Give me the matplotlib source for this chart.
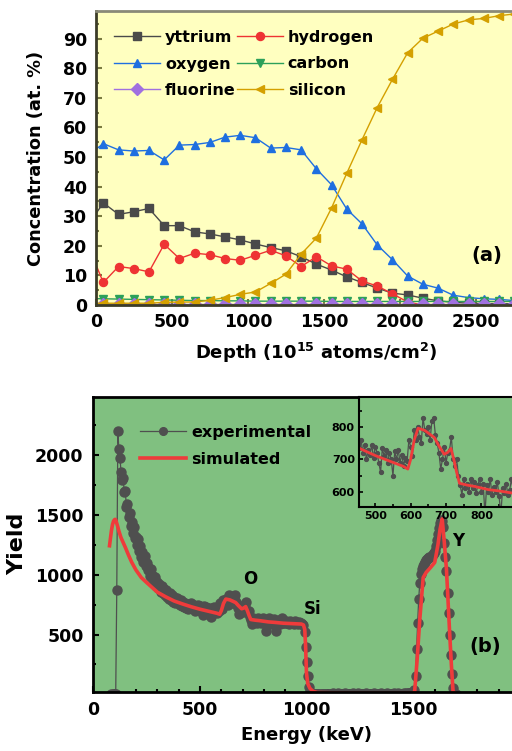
import numpy as np
import matplotlib
matplotlib.use("Agg")
import matplotlib.pyplot as plt
from matplotlib.ticker import MultipleLocator

plt.rcParams['font.family'] = ['DejaVu Sans']
plt.rcParams['font.weight'] = 'bold'
plt.rcParams['mathtext.fontset'] = 'custom'
plt.rcParams['mathtext.rm'] = 'DejaVu Sans:bold'
plt.rcParams['mathtext.bf'] = 'DejaVu Sans:bold'

# ---- (a) depth profile ----
depth = [-50, 50, 150, 250, 350, 450, 550, 650, 750, 850, 950, 1050, 1150, 1250, 1350,
         1450, 1550, 1650, 1750, 1850, 1950, 2050, 2150, 2250, 2350, 2450, 2550, 2650, 2750, 2850]
yttrium = [27, 34.5, 30.6, 31.5, 32.6, 26.8, 26.8, 24.7, 24.0, 23.0, 22.0, 20.6, 19.4, 18.3, 16.3,
           13.8, 11.8, 9.5, 7.6, 5.7, 4.0, 3.4, 2.3, 1.4, 0.9, 0.6, 0.5, 0.5, 0.4, 0.4]
hydrogen = [20, 7.6, 13.0, 12.3, 11.2, 20.5, 15.7, 17.5, 17.0, 15.7, 15.1, 16.8, 18.5, 16.6, 13.0,
            16.3, 13.2, 12.1, 8.1, 6.4, 3.8, 1.0, 0, 0, 0, 0, 0, 0, 0, 0]
oxygen = [50.6, 54.5, 52.4, 52.0, 52.2, 49.0, 54.0, 54.2, 54.9, 56.7, 57.3, 56.5, 53.0, 53.2, 52.4,
          46.0, 40.6, 32.4, 27.4, 20.3, 15.3, 9.8, 7.0, 5.7, 3.3, 2.5, 2.1, 1.9, 1.5, 1.2]
carbon = [2.2, 2.1, 2.0, 1.9, 1.8, 1.7, 1.6, 1.5, 1.5, 1.4, 1.4, 1.3, 1.3, 1.3, 1.3,
          1.3, 1.2, 1.2, 1.2, 1.2, 1.2, 1.2, 1.2, 1.2, 1.2, 1.2, 1.2, 1.2, 1.2, 1.2]
fluorine = [0.4, 0.4, 0.4, 0.4, 0.4, 0.4, 0.4, 0.4, 0.4, 0.4, 0.4, 0.4, 0.4, 0.4, 0.4,
            0.4, 0.4, 0.4, 0.4, 0.4, 0.4, 0.4, 0.4, 0.4, 0.4, 0.4, 0.4, 0.4, 0.4, 0.4]
silicon = [0.5, 0.6, 0.6, 0.6, 0.6, 0.9, 1.0, 1.0, 1.6, 2.5, 3.6, 4.4, 7.3, 10.4, 17.2,
           22.6, 32.8, 44.5, 55.8, 66.7, 76.2, 85.2, 90.1, 92.5, 94.9, 96.3, 96.8, 97.7, 98.3, 98.6]

# ---- (b) RBS spectrum, 5 keV channels from 85 keV ----
exp_low = [0, 0, 0, 0, 0, 870, 2200, 2050, 1980, 1860,
           1790, 1810, 1690, 1700, 1570, 1590, 1480, 1520, 1410, 1440,
           1350, 1400, 1310, 1320, 1250, 1300, 1200, 1240, 1150, 1190,
           1110, 1160, 1070, 1100, 1040, 1060, 990, 1050, 970, 990,
           940, 980, 910, 940, 890, 925, 860, 905, 850, 880,
           830, 870, 815, 850, 800, 845, 790, 830, 775, 815,
           765, 805, 760, 790, 745, 785, 740, 770, 730, 765,
           720, 755, 715, 745]
exp_oxygen = [735, 760, 720, 745, 700, 730, 715, 745, 705, 740,
              720, 690, 660, 735, 710, 730, 690, 720, 700, 650,
              725, 700, 730, 690, 715, 680, 705, 695, 760, 740,
              710, 790, 760, 800, 770, 750, 830, 790, 780, 800,
              760, 820, 830, 775, 750, 720, 670, 700, 740, 690,
              720, 730, 770, 700, 680, 700, 650, 620, 590, 640,
              610, 625, 600, 640, 610, 630, 595, 620, 640, 600,
              625, 530, 620, 600, 640, 590, 615, 600, 630, 585,
              530, 610, 595, 625, 590, 605, 640, 600]
exp_silicon = [615, 595, 610, 600, 590, 615, 600, 595, 605, 590,
               610, 595, 600, 590, 605, 595, 600, 590, 580, 520,
               400, 270, 150, 60, 20, 8, 5, 3, 6, 2,
               4, 1, 5, 3, 0, 6, 2, 4, 1, 3,
               5, 2]
exp_gap = [3, 6, 2, 4, 8, 1, 5, 3, 7, 2,
           4, 6, 1, 3, 5, 9, 2, 4, 6, 3,
           1, 5, 7, 2, 4, 3, 6, 8, 2, 5,
           3, 1, 4, 6, 2, 7, 3, 5, 4, 2,
           6, 3, 8, 1, 4, 5, 2, 6, 3, 7,
           4, 2, 5, 3, 9, 1, 6, 4, 2, 5,
           3, 7, 4, 6, 2, 8, 5, 3, 6, 4,
           7, 5, 9, 6, 8, 10, 12]
exp_yttrium = [10, 15, 20, 40, 150, 380, 600, 800, 930, 1010,
               1050, 1070, 1090, 1110, 1120, 1130, 1140, 1150, 1150, 1160,
               1170, 1180, 1200, 1240, 1290, 1340, 1390, 1430, 1460, 1450,
               1400, 1270, 1150, 1030, 850, 680, 500, 330, 170, 50,
               10, 0, 0]
exp_energy = np.arange(85, 1705, 5)
exp_yield = np.concatenate([exp_low, exp_oxygen, exp_silicon, exp_gap, exp_yttrium])

sim_energy = [76, 80, 85, 90, 95, 100, 103, 106, 110, 115,
              120, 130, 140, 150, 165, 180, 200, 225, 250, 275,
              300, 340, 380, 420, 460, 500, 540, 580, 592, 600,
              610, 621, 640, 667, 680, 695, 705, 714, 722, 730,
              738, 760, 781, 820, 850, 890, 950, 975, 985, 991,
              995, 999, 1005, 1015, 1030, 1050, 1200, 1400, 1495, 1506,
              1518, 1530, 1546, 1560, 1580, 1600, 1615, 1625, 1635, 1645,
              1655, 1662, 1670, 1678, 1686, 1700, 1800]
sim_yield = [1243, 1300, 1370, 1420, 1450, 1462, 1464, 1455, 1430, 1400,
             1365, 1310, 1270, 1230, 1165, 1105, 1040, 977, 935, 895,
             855, 815, 780, 755, 732, 712, 695, 678, 670, 700,
             760, 797, 790, 768, 742, 716, 722, 734, 700, 660,
             626, 620, 616, 606, 602, 595, 590, 588, 580, 542,
             400, 178, 90, 50, 25, 15, 10, 8, 10, 23,
             300, 626, 977, 1020, 1060, 1103, 1250, 1380, 1468, 1270,
             1047, 800, 514, 250, 23, 5, 5]

W, H = 512, 751
fig = plt.figure(figsize=(W / 100, H / 100), dpi=100)


def box(left, top, right, bottom):
    return [left / W, 1 - bottom / H, (right - left) / W, (bottom - top) / H]


# ---------------- panel (a) ----------------
ax1 = fig.add_axes(box(95.7, 11, 537, 305))
ax1.set_facecolor('#ffffc0')
series = [
    (yttrium, 'yttrium', '#4a4a4a', 's'),
    (hydrogen, 'hydrogen', '#ee3333', 'o'),
    (oxygen, 'oxygen', '#1f6fe0', '^'),
    (carbon, 'carbon', '#2ca05a', 'v'),
    (fluorine, 'fluorine', '#a070e0', 'D'),
    (silicon, 'silicon', '#d4a000', '<'),
]
lines = {}
for vals, name, col, mk in series:
    ms = 6.5 if mk == 'D' else 5.8
    ln, = ax1.plot(depth, vals, color=col, marker=mk, ms=ms, lw=1, label=name)
    lines[name] = ln
ax1.set_xlim(0, 2900)
ax1.set_ylim(0, 99.3)
ax1.xaxis.set_major_locator(MultipleLocator(500))
ax1.xaxis.set_minor_locator(MultipleLocator(250))
ax1.yaxis.set_major_locator(MultipleLocator(10))
ax1.yaxis.set_minor_locator(MultipleLocator(5))
ax1.tick_params(which='both', direction='in', color='#7a7a40', width=1.5,
                labelsize=12.5, pad=6)
ax1.tick_params(which='major', length=4)
ax1.tick_params(which='minor', length=2.5)
for s in ['left', 'bottom']:
    ax1.spines[s].set_color('#3c3c28')
    ax1.spines[s].set_linewidth(2)
ax1.spines['top'].set_color('#8a8a78')
ax1.spines['top'].set_linewidth(2)
ax1.set_xlabel(r'Depth (10$^{15}$ atoms/cm$^{2}$)', fontsize=13, fontweight='bold', labelpad=7)
ax1.set_ylabel('Concentration (at. %)', fontsize=12.8, fontweight='bold', labelpad=13)
order = ['yttrium', 'oxygen', 'fluorine', 'hydrogen', 'carbon', 'silicon']
ax1.legend([lines[n] for n in order], order, ncol=2, loc='upper left',
           bbox_to_anchor=(114 / W, 1 - 30 / H), bbox_transform=fig.transFigure,
           frameon=False, fontsize=11.5, handlelength=2.9, handletextpad=0.3,
           columnspacing=0.05, labelspacing=0.72, borderpad=0, borderaxespad=0)
ax1.text(2569, 16.6, '(a)', fontsize=14, fontweight='bold', ha='center', va='center')

# ---------------- panel (b) ----------------
ax2 = fig.add_axes(box(93.3, 396.7, 519, 691.7))
ax2.set_facecolor('#80c080')
ax2.plot(exp_energy, exp_yield, color='#4f4f4f', lw=0.9, marker='o', ms=6.5,
         label='experimental')
ax2.plot(sim_energy, sim_yield, color='#ef3b3b', lw=2.6, label='simulated')
ax2.set_xlim(0, 1995)
ax2.set_ylim(22, 2490)
ax2.xaxis.set_major_locator(MultipleLocator(500))
ax2.xaxis.set_minor_locator(MultipleLocator(100))
ax2.yaxis.set_major_locator(MultipleLocator(500))
ax2.yaxis.set_minor_locator(MultipleLocator(250))
ax2.tick_params(which='both', direction='in', width=1.5, labelsize=12.5, pad=7)
ax2.tick_params(which='major', length=4)
ax2.tick_params(which='minor', length=2.5)
for s in ax2.spines.values():
    s.set_linewidth(2)
ax2.set_xlabel('Energy (keV)', fontsize=13, fontweight='bold', labelpad=5)
ax2.set_ylabel('Yield', fontsize=16, fontweight='bold', labelpad=6)
ax2.legend(loc='upper left', bbox_to_anchor=(140 / W, 1 - 425 / H),
           bbox_transform=fig.transFigure, frameon=False, fontsize=11.5,
           handlelength=2.9, handletextpad=0.3, labelspacing=0.72,
           borderpad=0, borderaxespad=0, markerscale=0.85)
ax2.text(735, 963, 'O', fontsize=12, fontweight='bold', ha='center', va='center')
ax2.text(1029, 710, 'Si', fontsize=12, fontweight='bold', ha='center', va='center')
ax2.text(1710, 1285, 'Y', fontsize=12, fontweight='bold', ha='center', va='center')
ax2.text(1836, 401, '(b)', fontsize=14, fontweight='bold', ha='center', va='center')

# inset: oxygen region
ax3 = fig.add_axes(box(359, 396.7, 515, 506.7))
ax3.set_facecolor('#80c080')
ax3.plot(exp_energy, exp_yield, color='#4f4f4f', lw=0.9, marker='o', ms=2.8)
ax3.plot(sim_energy, sim_yield, color='#ef3b3b', lw=2)
ax3.set_xlim(454, 895)
ax3.set_ylim(553, 895)
ax3.xaxis.set_major_locator(MultipleLocator(100))
ax3.xaxis.set_minor_locator(MultipleLocator(50))
ax3.yaxis.set_major_locator(MultipleLocator(100))
ax3.yaxis.set_minor_locator(MultipleLocator(50))
ax3.tick_params(which='both', direction='in', width=1.2, labelsize=8, pad=3)
ax3.tick_params(which='major', length=3)
ax3.tick_params(which='minor', length=2)
for s in ax3.spines.values():
    s.set_linewidth(1.5)

fig.savefig('out.png', dpi=100)
